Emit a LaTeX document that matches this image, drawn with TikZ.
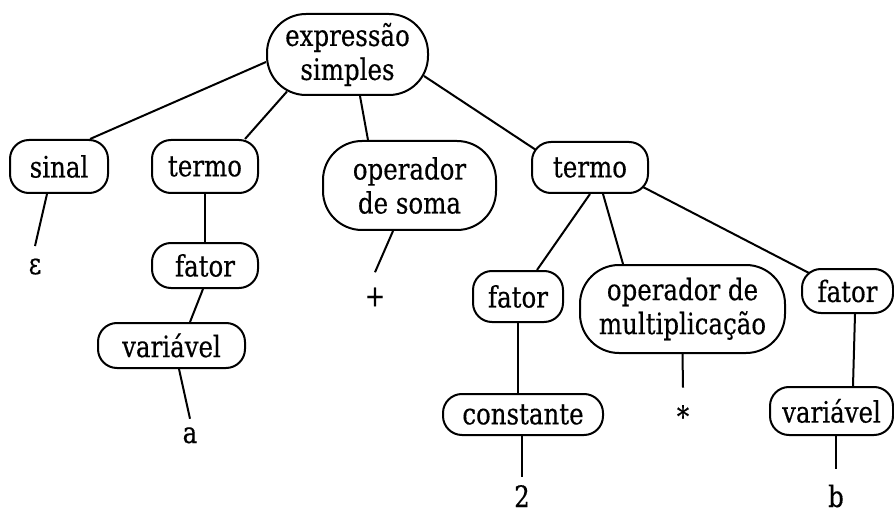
\documentclass[tikz,border=0pt]{standalone}
\usepackage{fontspec}
\setmainfont{DejaVu Serif}[FakeStretch=0.83, FakeBold=0.4]
\usepackage{tikz}

\begin{document}
\begin{tikzpicture}[x=1pt, y=-1pt, line width=2pt,
  every node/.style={font=\fontsize{29.5pt}{34pt}\selectfont, inner sep=0pt},
  box/.style={draw, rounded corners=19pt, align=center},
  bigbox/.style={box, rounded corners=39pt},
  leaf/.style={anchor=base}]

\useasboundingbox (0,0) rectangle (894,513);

% Root
\node[bigbox, minimum width=161pt, minimum height=81pt] (expr) at (347.5,54.5) {expressão\\simples};

% First level
\node[box, minimum width=98pt, minimum height=53pt] (sinal) at (59,166.5) {sinal};
\node[box, minimum width=106pt, minimum height=53pt] (termoL) at (205,166.5) {termo};
\node[bigbox, minimum width=173pt, minimum height=89pt] (soma) at (409.5,185.5) {operador\\de soma};
\node[box, minimum width=116pt, minimum height=51pt] (termoR) at (590,167.5) {termo};
\draw ([yshift=-7.5pt]expr.west) -- ([xshift=31pt]sinal.north);
\draw ([xshift=-60.5pt,yshift=4.5pt]expr.south) -- ([xshift=40pt]termoL.north);
\draw ([xshift=12.5pt]expr.south) -- ([xshift=-41.5pt]soma.north);
\draw ([xshift=-5pt,yshift=-21.5pt]expr.east) -- ([xshift=5pt,yshift=17.5pt]termoR.west);

% Left branch
\node[leaf] (eps) at (35,274) {ε};
\node[box, minimum width=106pt, minimum height=45pt] (fatorL) at (205,265.5) {fator};
\node[box, minimum width=147pt, minimum height=45pt] (varL) at (171.5,345.5) {variável};
\node[leaf] (a) at (190,443) {a};
\draw ([xshift=-12pt]sinal.south) -- ([yshift=11.5pt]eps.north);
\draw (termoL) -- (fatorL);
\draw ([xshift=-2pt]fatorL.south) -- ([xshift=18.5pt]varL.north);
\draw ([xshift=7.5pt]varL.south) -- ([yshift=7.5pt]a.north);

% Operator of the sum
\node (plus) at (375,297) {+};
\draw ([xshift=-16.5pt]soma.south) -- ([yshift=14.5pt]plus.north);

% Right term
\node[box, minimum width=90pt, minimum height=51pt] (fatorM) at (518,296.5) {fator};
\node[bigbox, minimum width=205pt, minimum height=88pt] (mult) at (682.5,309) {operador de\\multiplicação};
\node[box, minimum width=91pt, minimum height=44pt] (fatorR) at (847.5,291) {fator};
\draw (termoR.south) -- ([xshift=19pt]fatorM.north);
\draw ([xshift=13pt]termoR.south) -- ([xshift=-59.5pt]mult.north);
\draw ([xshift=-6pt,yshift=-19.5pt]termoR.east) -- ([xshift=8pt,yshift=18pt]fatorR.west);

% Bottom row
\node[box, minimum width=160pt, minimum height=41pt] (const) at (523,414.5) {constante};
\node[leaf] (star) at (683,427) {*};
\node[box, minimum width=123pt, minimum height=48pt] (varR) at (831.5,411) {variável};
\node[leaf] (two) at (522,507) {2};
\node[leaf] (b) at (836,507) {b};
\draw (fatorM.south) -- ([xshift=-5pt]const.north);
\draw (mult.south) -- ([yshift=16.5pt]star.north);
\draw ([xshift=7.5pt]fatorR.south) -- ([xshift=21.5pt]varR.north);
\draw ([xshift=-1pt]const.south) -- ([yshift=7.5pt]two.north);
\draw ([xshift=4.5pt]varR.south) -- ([yshift=14.5pt]b.north);

\end{tikzpicture}
\end{document}
